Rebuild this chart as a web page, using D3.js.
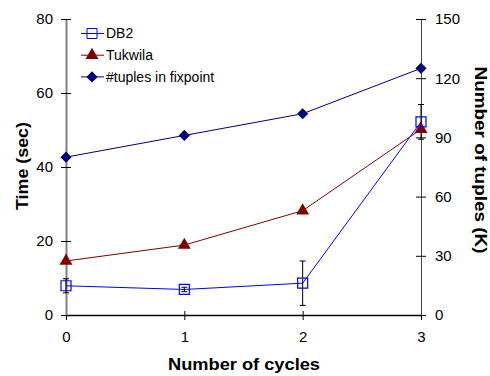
<!DOCTYPE html>
<html>
<head>
<meta charset="utf-8">
<script src="https://cdn.jsdelivr.net/npm/d3@7"></script>
<style>
  body { margin: 0; background: #fff; }
  text { font-family: "Liberation Sans", Arial, sans-serif; }
</style>
</head>
<body>
<script>
// data
var cycles = [0, 1, 2, 3];
var db2 = [7.9, 6.9, 8.6, 52.2];
var db2Err = [1.9, 0.6, 6.0, 4.7];
var tukwila = [14.6, 18.9, 28.2, 50.2];
var tuples = [80, 91, 102, 125];
var leftTicks = [0, 20, 40, 60, 80];
var rightTicks = [0, 30, 60, 90, 120, 150];

var W = 490, H = 376;
var svg = d3.select("body").append("svg").attr("width", W).attr("height", H);

var x = d3.scaleLinear().domain([0, 3]).range([66, 421]);
var yL = d3.scaleLinear().domain([0, 80]).range([315, 19]);
var yR = d3.scaleLinear().domain([0, 150]).range([315, 19]);

// axes
var gx = svg.append("g").attr("transform", "translate(0,315)")
  .call(d3.axisBottom(x).tickValues(cycles).tickFormat(d3.format("d")).tickSizeOuter(0));
gx.select(".domain").attr("stroke", "#000").attr("stroke-width", 1.5);
gx.selectAll(".tick line").attr("y1", -4).attr("y2", 5);
gx.selectAll(".tick text").attr("font-size", 15).attr("y", 27).attr("dy", 0).attr("fill", "#000");

var gl = svg.append("g").attr("transform", "translate(66,0)")
  .call(d3.axisLeft(yL).tickValues(leftTicks).tickSizeOuter(0));
gl.select(".domain").attr("stroke", "#808080").attr("stroke-width", 2);
gl.selectAll(".tick line").attr("x1", 5).attr("x2", -5).attr("stroke", "#000");
gl.selectAll(".tick text").attr("font-size", 15).attr("x", -13).attr("fill", "#000");

var gr = svg.append("g").attr("transform", "translate(421,0)")
  .call(d3.axisRight(yR).tickValues(rightTicks).tickSizeOuter(0));
gr.select(".domain").attr("stroke", "#444");
gr.selectAll(".tick line").attr("x1", -5).attr("x2", 5).attr("stroke", "#000");
gr.selectAll(".tick text").attr("font-size", 15).attr("x", 14).attr("fill", "#000");

// axis titles
svg.append("text").attr("x", 244).attr("y", 370).attr("text-anchor", "middle")
  .attr("font-size", 16).attr("font-weight", "bold")
  .attr("textLength", 152).attr("lengthAdjust", "spacingAndGlyphs").text("Number of cycles");
svg.append("text").attr("transform", "translate(28,166) rotate(-90)").attr("text-anchor", "middle")
  .attr("font-size", 16).attr("font-weight", "bold")
  .attr("textLength", 88).attr("lengthAdjust", "spacingAndGlyphs").text("Time (sec)");
svg.append("text").attr("transform", "translate(475,160) rotate(90)").attr("text-anchor", "middle")
  .attr("font-size", 16).attr("font-weight", "bold")
  .attr("textLength", 187).attr("lengthAdjust", "spacingAndGlyphs").text("Number of tuples (K)");

var line = function (ys) {
  return d3.line().x(function (d, i) { return x(cycles[i]); }).y(function (d) { return ys(d); });
};

// tuples series
svg.append("path").datum(tuples).attr("d", line(yR)).attr("fill", "none").attr("stroke", "#000080");
// tukwila series
svg.append("path").datum(tukwila).attr("d", line(yL)).attr("fill", "none").attr("stroke", "#800000");
// db2 series
svg.append("path").datum(db2).attr("d", line(yL)).attr("fill", "none").attr("stroke", "#0000ff");

// error bars
var eb = svg.append("g").attr("stroke", "#000").attr("stroke-width", 1);
db2.forEach(function (v, i) {
  var cx = x(cycles[i]), y1 = yL(v + db2Err[i]), y2 = yL(v - db2Err[i]);
  eb.append("line").attr("x1", cx).attr("x2", cx).attr("y1", y1).attr("y2", y2);
  eb.append("line").attr("x1", cx - 3).attr("x2", cx + 3).attr("y1", y1).attr("y2", y1);
  eb.append("line").attr("x1", cx - 3).attr("x2", cx + 3).attr("y1", y2).attr("y2", y2);
});

var sq = d3.symbol().type(d3.symbolSquare).size(100);
var tri = d3.symbol().type(d3.symbolTriangle).size(72);
var dia = d3.symbol().type(d3.symbolSquare).size(62);

svg.selectAll(".tup").data(tuples).enter().append("path")
  .attr("d", dia).attr("fill", "#000080")
  .attr("transform", function (d, i) { return "translate(" + x(cycles[i]) + "," + yR(d) + ") rotate(45)"; });
svg.selectAll(".tuk").data(tukwila).enter().append("path")
  .attr("d", tri).attr("fill", "#800000")
  .attr("transform", function (d, i) { return "translate(" + x(cycles[i]) + "," + yL(d) + ")"; });
svg.selectAll(".db").data(db2).enter().append("path")
  .attr("d", sq).attr("fill", "none").attr("stroke", "#0000ff").attr("stroke-width", 1.2)
  .attr("transform", function (d, i) { return "translate(" + x(cycles[i]) + "," + yL(d) + ")"; });

// legend
var legend = [
  { name: "DB2", color: "#0000ff", sym: sq, fill: "none", rot: 0 },
  { name: "Tukwila", color: "#800000", sym: tri, fill: "#800000", rot: 0 },
  { name: "#tuples in fixpoint", color: "#000080", sym: dia, fill: "#000080", rot: 45 }
];
var lg = svg.append("g").selectAll("g").data(legend).enter().append("g")
  .attr("transform", function (d, i) { return "translate(0," + (33.5 + i * 21.7) + ")"; });
lg.append("line").attr("x1", 81).attr("x2", 104).attr("stroke", function (d) { return d.color; });
lg.append("path").attr("d", function (d) { return d.sym(); })
  .attr("transform", function (d) { return "translate(92,0) rotate(" + d.rot + ")"; })
  .attr("fill", function (d) { return d.fill; })
  .attr("stroke", function (d) { return d.fill === "none" ? d.color : "none"; });
lg.append("text").attr("x", 106).attr("dy", "0.35em").attr("font-size", 14)
  .text(function (d) { return d.name; });
</script>
</body>
</html>
